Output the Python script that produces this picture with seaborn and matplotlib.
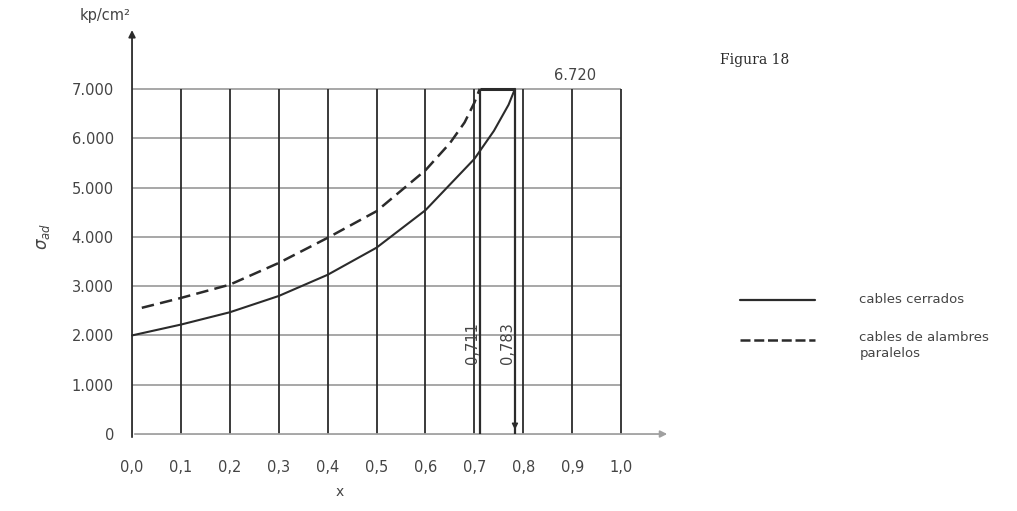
import numpy as np
import pandas as pd
import matplotlib.pyplot as plt
import seaborn as sns
from matplotlib.lines import Line2D

# values (x, sigma_ad in kp/cm2)
x_cerrados = [0.0, 0.1, 0.2, 0.3, 0.4, 0.5, 0.6, 0.7, 0.74, 0.77, 0.783]
y_cerrados = [2000, 2220, 2470, 2800, 3230, 3780, 4540, 5580, 6150, 6680, 7000]
x_paralelos = [0.02, 0.1, 0.2, 0.3, 0.4, 0.5, 0.6, 0.65, 0.68, 0.7, 0.711]
y_paralelos = [2560, 2760, 3030, 3470, 3980, 4520, 5350, 5900, 6320, 6720, 7000]

x_limits = [0.711, 0.783]
x_limit_labels = ['0,711', '0,783']
top_value = 7000
top_label = '6.720'

x_ticks = [0.0, 0.1, 0.2, 0.3, 0.4, 0.5, 0.6, 0.7, 0.8, 0.9, 1.0]
x_tick_labels = ['0,0', '0,1', '0,2', '0,3', '0,4', '0,5', '0,6', '0,7', '0,8', '0,9', '1,0']
y_ticks = [0, 1000, 2000, 3000, 4000, 5000, 6000, 7000]
y_tick_labels = ['0', '1.000', '2.000', '3.000', '4.000', '5.000', '6.000', '7.000']

labels = ['cables cerrados', 'cables de alambres\nparalelos']

sns.set_style('white')
plt.rcParams['font.family'] = ['DejaVu Sans']

ink = '#2b2b2b'
grid_gray = '#a0a0a0'
text_gray = '#444444'

fig = plt.figure(figsize=(10.17, 5.11), dpi=100)
ax = fig.add_axes([0.1202, 0.1217, 0.5482, 0.8297])
ax.set_xlim(-0.02, 1.12)
ax.set_ylim(-300, 8300)
for s in ax.spines.values():
    s.set_visible(False)

# grid
ax.hlines(y_ticks[1:], 0, 1.0, color=grid_gray, lw=1.3, zorder=1)
ax.vlines(x_ticks[1:], 0, top_value, color=ink, lw=1.3, zorder=2)

# axes with arrows
ax.annotate('', xy=(0, 8250), xytext=(0, -120),
            arrowprops=dict(arrowstyle='-|>', color=ink, lw=1.3, mutation_scale=10))
ax.annotate('', xy=(1.1, 0), xytext=(0, 0),
            arrowprops=dict(arrowstyle='-|>', color=grid_gray, lw=1.3, mutation_scale=10))

# curves
df_c = pd.DataFrame({'x': x_cerrados, 'y': y_cerrados})
df_p = pd.DataFrame({'x': x_paralelos, 'y': y_paralelos})
sns.lineplot(data=df_c, x='x', y='y', ax=ax, color=ink, lw=1.5, zorder=4)
sns.lineplot(data=df_p, x='x', y='y', ax=ax, color=ink, lw=1.8, zorder=4,
             linestyle=(0, (5, 2.5)))

# limit lines
ax.vlines(x_limits, 0, top_value, color=ink, lw=1.6, zorder=3)
ax.hlines(top_value, x_limits[0], x_limits[1], color=ink, lw=2.2, zorder=3)
ax.annotate('', xy=(x_limits[1], 30), xytext=(x_limits[1], 900),
            arrowprops=dict(arrowstyle='-|>', color=ink, lw=1.0, mutation_scale=9))
for xv, lab in zip(x_limits, x_limit_labels):
    ax.text(xv - 0.015, 1850, lab, rotation=90, ha='center', va='center',
            fontsize=10.5, color=text_gray)
ax.text(0.905, top_value + 280, top_label, ha='center', va='center',
        fontsize=10.5, color=text_gray)

# ticks
ax.set_xticks(x_ticks)
ax.set_xticklabels(x_tick_labels)
ax.set_yticks(y_ticks)
ax.set_yticklabels(y_tick_labels)
ax.tick_params(axis='both', length=0, labelsize=10.5, labelcolor=text_gray)
ax.tick_params(axis='x', pad=8)
ax.tick_params(axis='y', pad=6)
ax.set_xlabel('')
ax.set_ylabel(r'$\sigma_{ad}$', fontsize=12, color=text_gray, labelpad=14)
fig.text(0.334, 0.037, 'x', fontsize=10, color=text_gray, ha='center', va='center')

fig.text(0.103, 0.97, 'kp/cm²', fontsize=10.5, color=text_gray, ha='center', va='center')
fig.text(0.708, 0.882, 'Figura 18', fontsize=10, color=ink, family='DejaVu Serif',
         ha='left', va='center')

# legend drawn by hand
fig.add_artist(Line2D([0.728, 0.801], [0.413, 0.413], color=ink, lw=1.6))
fig.add_artist(Line2D([0.728, 0.801], [0.335, 0.335], color=ink, lw=1.8,
                      linestyle=(0, (4, 1.5))))
fig.text(0.845, 0.413, labels[0], fontsize=9.5, color=text_gray, va='center')
fig.text(0.845, 0.352, labels[1], fontsize=9.5, color=text_gray, va='top',
         linespacing=1.3)

fig.savefig('out.png', dpi=100)
